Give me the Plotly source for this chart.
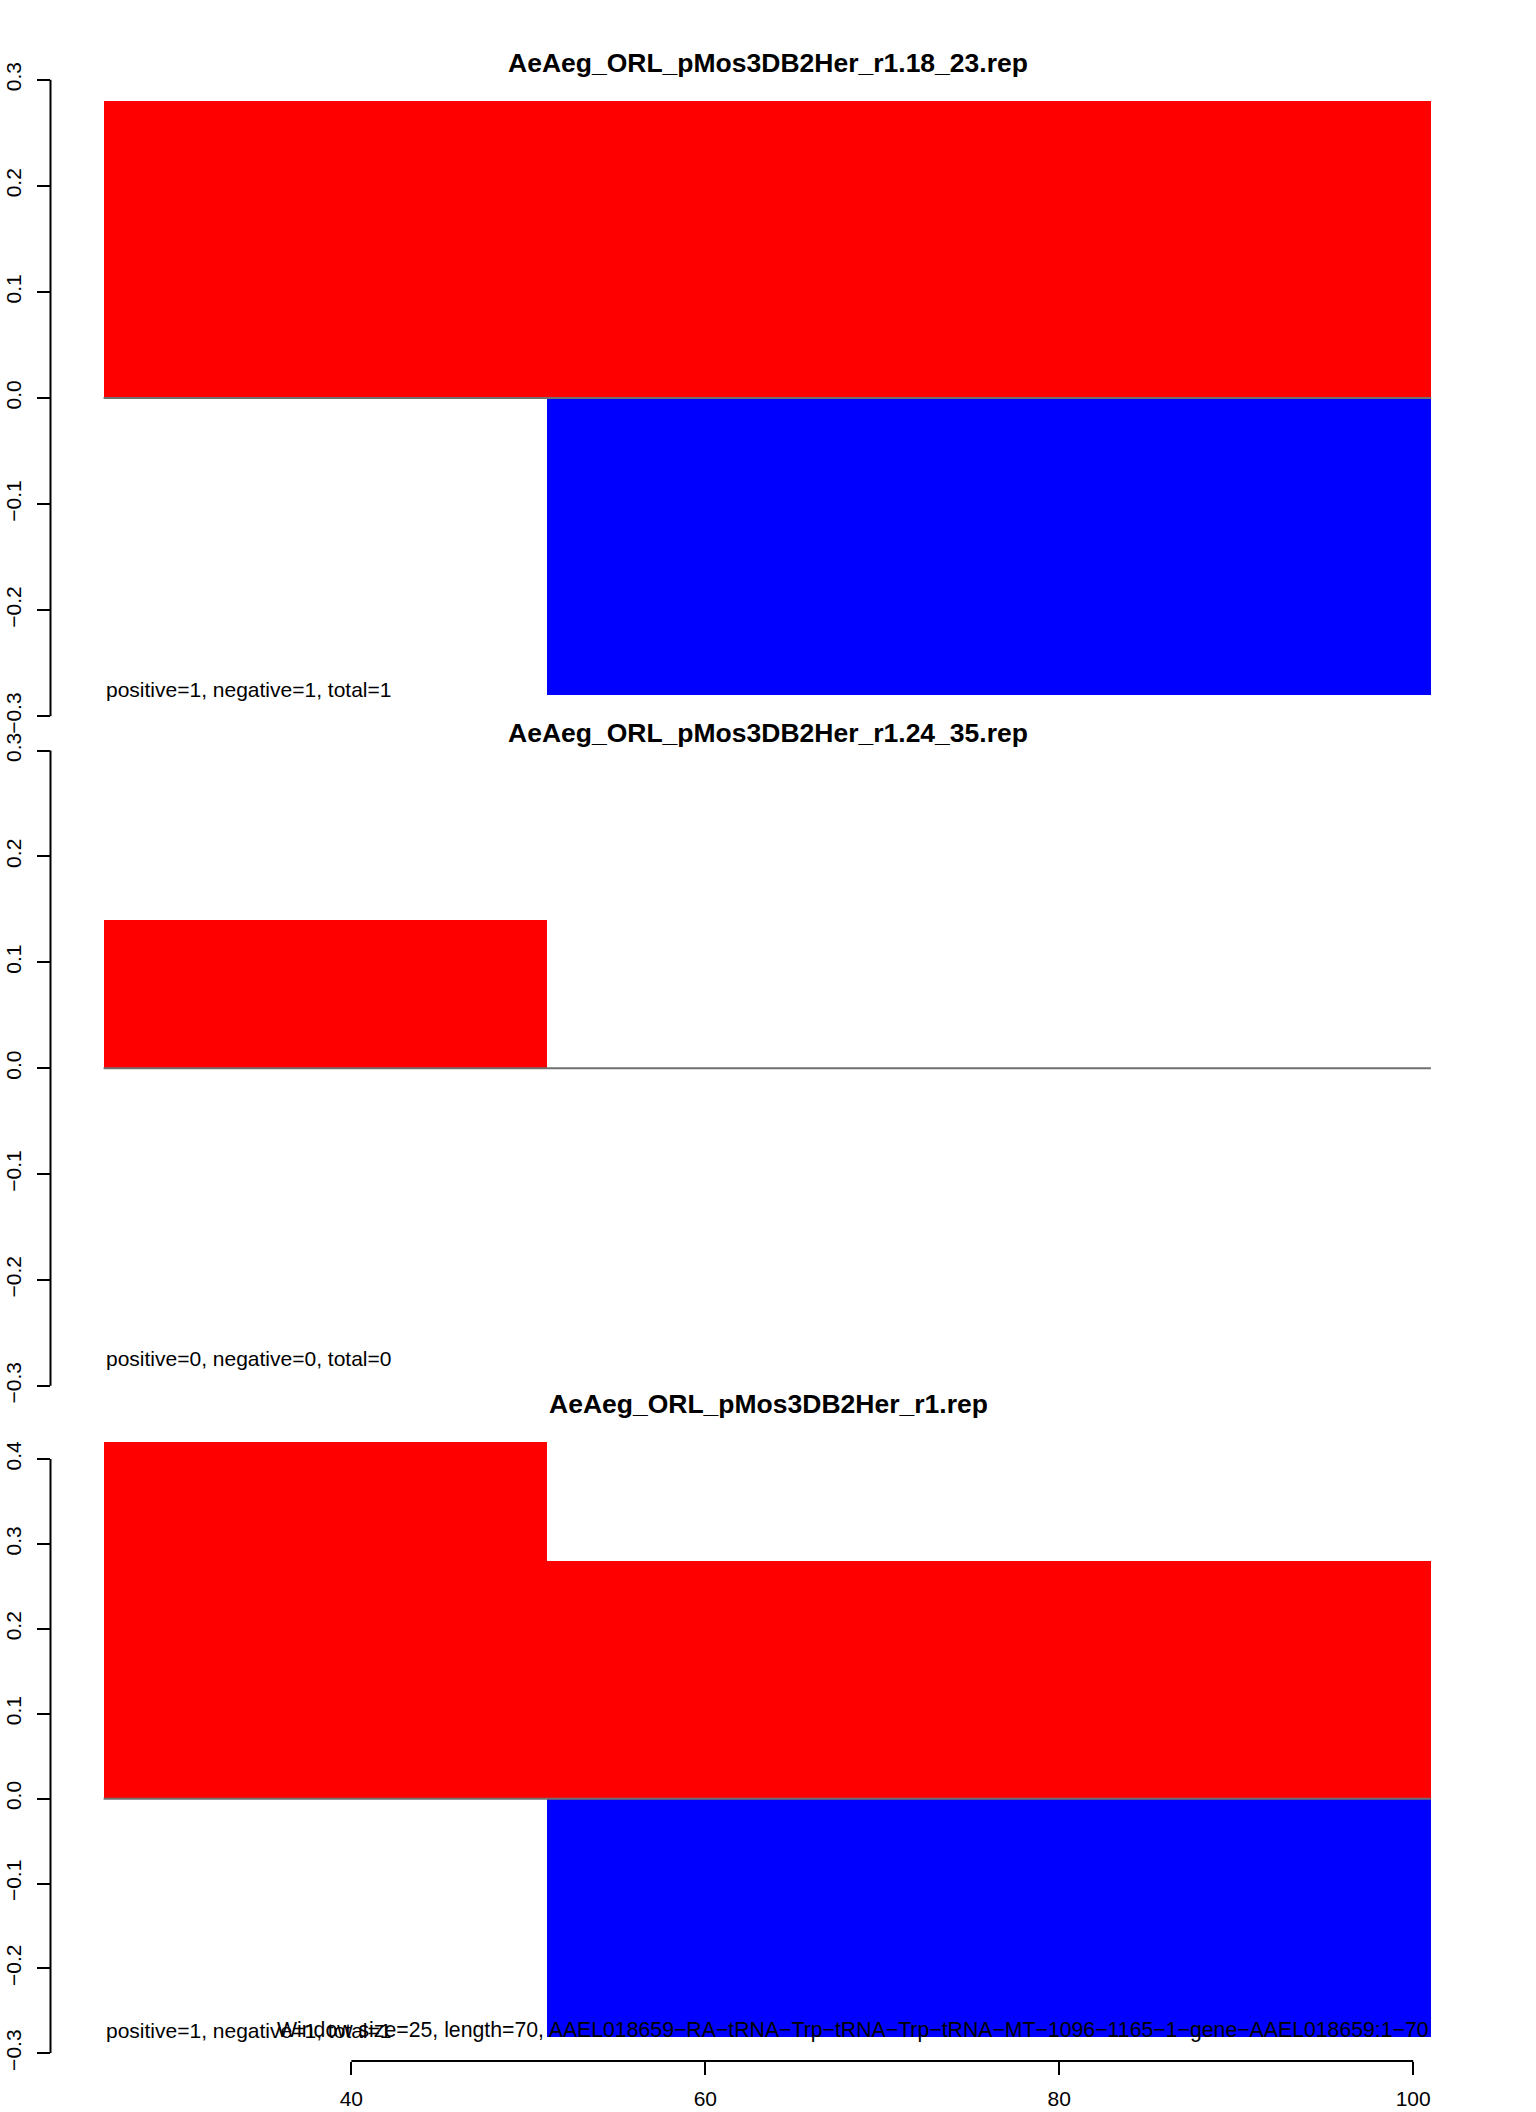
import plotly.graph_objects as go

# window bins (start position of each 25-wide window)
bin_starts = [26, 51, 76]
window = 25

titles = [
    "AeAeg_ORL_pMos3DB2Her_r1.18_23.rep",
    "AeAeg_ORL_pMos3DB2Her_r1.24_35.rep",
    "AeAeg_ORL_pMos3DB2Her_r1.rep",
]
pos_values = [
    [0.28, 0.28, 0.28],
    [0.14, 0.0, 0.0],
    [0.42, 0.28, 0.28],
]
neg_values = [
    [0.0, -0.28, -0.28],
    [0.0, 0.0, 0.0],
    [0.0, -0.28, -0.28],
]
counts = [
    "positive=1, negative=1, total=1",
    "positive=0, negative=0, total=0",
    "positive=1, negative=1, total=1",
]
y_ticks = [
    [-0.3, -0.2, -0.1, 0.0, 0.1, 0.2, 0.3],
    [-0.3, -0.2, -0.1, 0.0, 0.1, 0.2, 0.3],
    [-0.3, -0.2, -0.1, 0.0, 0.1, 0.2, 0.3, 0.4],
]
x_ticks = [40, 60, 80, 100]
footer = ("Window size=25, length=70, "
          "AAEL018659\u2212RA\u2212tRNA\u2212Trp\u2212tRNA\u2212Trp\u2212tRNA\u2212MT"
          "\u22121096\u22121165\u22121\u2212gene\u2212AAEL018659:1\u221270")

W, H = 1536, 2112
FONT = "Liberation Sans, Arial, sans-serif"

# layout in pixels
x_left_px, x_right_px = 50.5, 1484.0
y_ranges = [[-0.3005, 0.3005], [-0.3005, 0.3005], [-0.3, 0.43]]
y_px = [(716.8, 79.3), (1386.4, 750.0), (2053.3, 1433.6)]  # (bottom, top)
title_y_px = [63, 733, 1404]
xaxis_px = 2061

centers = [s + window / 2 for s in bin_starts]
edges = [bin_starts[0], bin_starts[-1] + window]

fig = go.Figure()
shapes = []
annotations = []
for i in range(3):
    yname = "y" if i == 0 else f"y{i+1}"
    # zero baseline
    fig.add_trace(go.Scatter(x=edges, y=[0, 0], mode="lines", yaxis=yname,
                             line=dict(color="#707070", width=2), showlegend=False,
                             hoverinfo="skip"))
    fig.add_trace(go.Bar(x=centers, y=pos_values[i], width=window, yaxis=yname,
                         marker=dict(color="#FF0000", line=dict(width=0)),
                         showlegend=False))
    fig.add_trace(go.Bar(x=centers, y=neg_values[i], width=window, yaxis=yname,
                         marker=dict(color="#0000FF", line=dict(width=0)),
                         showlegend=False))
    b, t = y_px[i]
    ax = dict(domain=[1 - b / H, 1 - t / H], range=y_ranges[i], anchor="x",
              automargin=False,
              tickvals=y_ticks[i], ticktext=[f"{v:.1f}".replace("-", "\u2212") for v in y_ticks[i]],
              ticks="outside", ticklen=13, tickwidth=2, tickcolor="black",
              tickangle=-90, ticklabelstandoff=7,
              tickfont=dict(family=FONT, size=21, color="black"),
              showline=False, showgrid=False, zeroline=False)
    fig.update_layout(**{("yaxis" if i == 0 else f"yaxis{i+1}"): ax})
    # axis line spans first to last tick only
    shapes.append(dict(type="line", xref="paper", yref=yname,
                       x0=x_left_px / W, x1=x_left_px / W,
                       y0=y_ticks[i][0], y1=y_ticks[i][-1],
                       line=dict(color="black", width=2)))
    annotations.append(dict(text=f"<b>{titles[i]}</b>", xref="paper", yref="paper",
                            x=0.5, y=1 - title_y_px[i] / H, showarrow=False,
                            xanchor="center", yanchor="middle",
                            font=dict(family=FONT, size=26.5, color="black")))
    annotations.append(dict(text=counts[i], xref="x", yref=yname,
                            x=bin_starts[0], y=-0.28, yshift=6, showarrow=False,
                            xanchor="left", yanchor="middle",
                            font=dict(family=FONT, size=21, color="black")))

annotations.append(dict(text=footer, xref="x", yref="y3",
                        x=bin_starts[-1] + window, y=-0.28, yshift=6, showarrow=False,
                        xanchor="right", yanchor="middle",
                        font=dict(family=FONT, size=21.25, color="black")))

shapes.append(dict(type="line", xref="x", yref="paper",
                   x0=x_ticks[0], x1=x_ticks[-1],
                   y0=1 - xaxis_px / H, y1=1 - xaxis_px / H,
                   line=dict(color="black", width=2)))

fig.update_layout(
    width=W, height=H,
    margin=dict(l=0, r=0, t=0, b=0, autoexpand=False),
    paper_bgcolor="white", plot_bgcolor="white",
    barmode="overlay", bargap=0,
    showlegend=False,
    xaxis=dict(domain=[x_left_px / W, x_right_px / W], range=[23, 104],
               anchor="free", position=1 - xaxis_px / H, automargin=False,
               tickvals=x_ticks, ticks="outside", ticklen=13, tickwidth=2,
               tickcolor="black", ticklabelstandoff=6,
               tickfont=dict(family=FONT, size=21, color="black"),
               showline=False, showgrid=False, zeroline=False),
    shapes=shapes,
    annotations=annotations,
)

fig.write_html("out.html", config={"displayModeBar": False},
               post_script="document.body.style.margin='0';")
